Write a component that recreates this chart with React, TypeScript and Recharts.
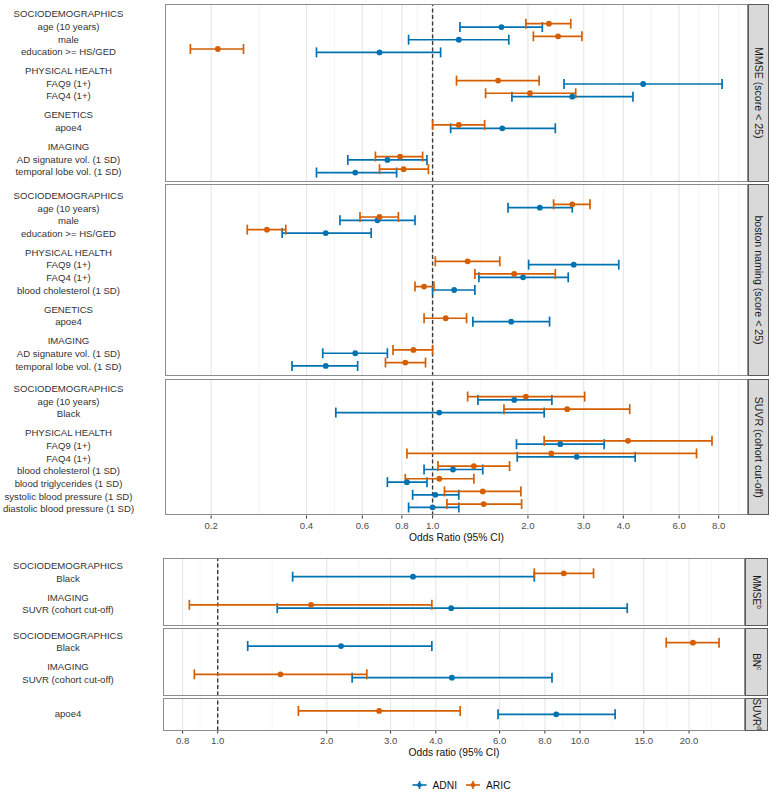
import React from 'react';
import { ComposedChart, Scatter, ErrorBar, XAxis, YAxis, CartesianGrid, ReferenceLine } from 'recharts';

const ADNI_COLOR = '#0072B2';
const ARIC_COLOR = '#D55E00';
const FONT = '"Liberation Sans", Arial, Helvetica, sans-serif';

const groupHeaders = ['SOCIODEMOGRAPHICS', 'PHYSICAL HEALTH', 'GENETICS', 'IMAGING'];

const topTicks = [0.2, 0.4, 0.6, 0.8, 1, 2, 3, 4, 6, 8];
const bottomTicks = [0.8, 1, 2, 3, 4, 6, 8, 10, 15, 20];

// rows of each facet (headers + items), values are [OR, lower, upper] per item row
const mmseRows = ['SOCIODEMOGRAPHICS', 'age (10 years)', 'male', 'education >= HS/GED', 'PHYSICAL HEALTH', 'FAQ9 (1+)', 'FAQ4 (1+)', 'GENETICS', 'apoe4', 'IMAGING', 'AD signature vol. (1 SD)', 'temporal lobe vol. (1 SD)'];
const mmseAdni = [
  [1.65, 1.22, 2.22], [1.21, 0.84, 1.74], [0.68, 0.43, 1.06],
  [4.62, 2.6, 8.2], [2.76, 1.78, 4.29],
  [1.66, 1.14, 2.44],
  [0.72, 0.54, 0.96], [0.57, 0.43, 0.77],
];
const mmseAric = [
  [2.33, 1.97, 2.73], [2.49, 2.08, 2.96], [0.21, 0.172, 0.253],
  [1.61, 1.19, 2.17], [2.03, 1.47, 2.83],
  [1.21, 1.0, 1.46],
  [0.79, 0.66, 0.93], [0.81, 0.68, 0.97],
];

const bostonRows = ['SOCIODEMOGRAPHICS', 'age (10 years)', 'male', 'education >= HS/GED', 'PHYSICAL HEALTH', 'FAQ9 (1+)', 'FAQ4 (1+)', 'blood cholesterol (1 SD)', 'GENETICS', 'apoe4', 'IMAGING', 'AD signature vol. (1 SD)', 'temporal lobe vol. (1 SD)'];
const bostonAdni = [
  [2.18, 1.73, 2.76], [0.67, 0.51, 0.88], [0.46, 0.335, 0.64],
  [2.79, 2.01, 3.87], [1.93, 1.4, 2.68], [1.17, 1.0, 1.36],
  [1.77, 1.34, 2.34],
  [0.57, 0.45, 0.72], [0.46, 0.36, 0.58],
];
const bostonAric = [
  [2.76, 2.41, 3.14], [0.68, 0.59, 0.78], [0.3, 0.26, 0.344],
  [1.29, 1.02, 1.63], [1.81, 1.36, 2.44], [0.94, 0.88, 1.01],
  [1.1, 0.94, 1.28],
  [0.87, 0.75, 1.0], [0.82, 0.71, 0.95],
];

const suvrRows = ['SOCIODEMOGRAPHICS', 'age (10 years)', 'Black', 'PHYSICAL HEALTH', 'FAQ9 (1+)', 'FAQ4 (1+)', 'blood cholesterol (1 SD)', 'blood triglycerides (1 SD)', 'systolic blood pressure (1 SD)', 'diastolic blood pressure (1 SD)'];
const suvrAdni = [
  [1.81, 1.39, 2.38], [1.05, 0.495, 2.25],
  [2.53, 1.84, 3.48], [2.85, 1.85, 4.36], [1.16, 0.94, 1.44], [0.83, 0.72, 0.96], [1.02, 0.865, 1.21], [1.0, 0.84, 1.21],
];
const suvrAric = [
  [1.97, 1.29, 3.02], [2.66, 1.68, 4.19],
  [4.14, 2.25, 7.62], [2.37, 0.83, 6.81], [1.35, 1.04, 1.75], [1.05, 0.82, 1.35], [1.44, 1.09, 1.9], [1.45, 1.11, 1.91],
];

const mmseBRows = ['SOCIODEMOGRAPHICS', 'Black', 'IMAGING', 'SUVR (cohort cut-off)'];
const mmseBAdni = [[3.46, 1.61, 7.48], [4.41, 1.46, 13.5]];
const mmseBAric = [[9.02, 7.48, 10.9], [1.81, 0.835, 3.9]];

const bnBRows = ['SOCIODEMOGRAPHICS', 'Black', 'IMAGING', 'SUVR (cohort cut-off)'];
const bnBAdni = [[2.19, 1.21, 3.9], [4.43, 2.35, 8.37]];
const bnBAric = [[20.5, 17.3, 24.2], [1.49, 0.862, 2.58]];

const suvrBRows = ['apoe4'];
const suvrBAdni = [[8.6, 5.94, 12.5]];
const suvrBAric = [[2.79, 1.67, 4.67]];

function rowPositions(rows: string[]) {
  let pos = 0;
  return rows.map((r, i) => {
    if (i > 0) pos += groupHeaders.includes(r) ? 1.5 : 1;
    return pos;
  });
}

function seriesData(rows: string[], values: number[][], offset: number) {
  const pos = rowPositions(rows);
  const items = rows.map((r, i) => ({ r, p: pos[i] })).filter((d) => !groupHeaders.includes(d.r));
  return items.map((d, i) => ({
    label: d.r,
    or: values[i][0],
    y: d.p + offset,
    err: [values[i][0] - values[i][1], values[i][2] - values[i][0]],
  }));
}

function minorBreaks(ticks: number[], domain: number[]) {
  const out: number[] = [];
  const ext = [ticks[0] / (ticks[1] / ticks[0]), ...ticks, ticks[ticks.length - 1] * (ticks[ticks.length - 1] / ticks[ticks.length - 2])];
  for (let i = 0; i < ext.length - 1; i++) {
    const m = Math.sqrt(ext[i] * ext[i + 1]);
    if (m > domain[0] * 1.03 && m < domain[1]) out.push(m);
  }
  return out;
}

const dot = (color: string) => (p: any) => <circle cx={p.cx} cy={p.cy} r={2.9} fill={color} />;

interface PanelProps {
  rows: string[];
  adni: number[][];
  aric: number[][];
  yDomain: number[];
  top: number;
  height: number;
  width: number;
  axisWidth: number;
  xDomain: number[];
  ticks: number[];
  showAxis?: boolean;
  strip: React.ReactNode;
  stripWidth: number;
  stripFont: number;
  labelX: number;
  labelDy: number;
}

const Panel = ({ rows, adni, aric, yDomain, top, height, width, axisWidth, xDomain, ticks, showAxis, strip, stripWidth, stripFont, labelX, labelDy }: PanelProps) => {
  const pos = rowPositions(rows);
  const labelMap = new Map<number, string>();
  pos.forEach((p, i) => labelMap.set(p, rows[i]));
  const adniData = seriesData(rows, adni, 0.134);
  const aricData = seriesData(rows, aric, -0.134);
  const axisH = showAxis ? 34 : 0;

  const yTick = (p: any) => (
    <text x={labelX} y={p.y + labelDy} textAnchor="middle" dominantBaseline="central" fontSize={9.6} fill="#333">
      {labelMap.get(p.payload.value)}
    </text>
  );

  return (
    <>
      <div style={{ position: 'absolute', left: 0, top }}>
        <ComposedChart width={width} height={height + axisH} margin={{ top: 0, right: 0, bottom: 0, left: 0 }}>
          <CartesianGrid horizontal={false} verticalValues={minorBreaks(ticks, xDomain)} stroke="#f0f0f0" strokeWidth={0.7} />
          <CartesianGrid horizontal={false} verticalValues={ticks} stroke="#e6e6e6" strokeWidth={1.1} />
          <XAxis
            type="number"
            dataKey="or"
            scale="log"
            domain={xDomain}
            allowDataOverflow
            ticks={ticks}
            interval={0}
            tickFormatter={(v: number) => Number(v).toFixed(1)}
            hide={!showAxis}
            height={axisH}
            axisLine={false}
            tickLine={{ stroke: '#333' }}
            tickSize={3}
            tickMargin={3.5}
            tick={{ fill: '#4d4d4d', fontSize: 9.6 }}
          />
          <YAxis
            type="number"
            dataKey="y"
            domain={yDomain}
            allowDataOverflow
            reversed
            ticks={pos}
            interval={0}
            width={axisWidth}
            axisLine={false}
            tickLine={false}
            tick={yTick}
          />
          <ReferenceLine x={1} stroke="#3a3a3a" strokeWidth={1.4} strokeDasharray="4 2.5" />
          <Scatter data={adniData} fill={ADNI_COLOR} shape={dot(ADNI_COLOR)} isAnimationActive={false}>
            <ErrorBar dataKey="err" direction="x" width={5} stroke={ADNI_COLOR} strokeWidth={1.7} isAnimationActive={false} />
          </Scatter>
          <Scatter data={aricData} fill={ARIC_COLOR} shape={dot(ARIC_COLOR)} isAnimationActive={false}>
            <ErrorBar dataKey="err" direction="x" width={5} stroke={ARIC_COLOR} strokeWidth={1.7} isAnimationActive={false} />
          </Scatter>
        </ComposedChart>
      </div>
      <div
        style={{
          position: 'absolute', left: axisWidth, top, width: width - axisWidth, height,
          border: '1.5px solid #8c8c8c', boxSizing: 'border-box', pointerEvents: 'none',
        }}
      />
      <div
        style={{
          position: 'absolute', left: width, top, width: stripWidth, height,
          background: '#d9d9d9', border: '1px solid #5a5a5a', boxSizing: 'border-box',
        }}
      >
        <svg width={stripWidth} height={height} style={{ position: 'absolute', left: -1, top: -1, overflow: 'visible' }}>
          <text
            transform={`translate(${stripWidth / 2}, ${height / 2}) rotate(90)`}
            textAnchor="middle"
            dominantBaseline="central"
            fontSize={stripFont}
            fill="#1a1a1a"
          >
            {strip}
          </text>
        </svg>
      </div>
    </>
  );
};

const sup = (base: string, s: string) => (
  <>
    <tspan>{base}</tspan>
    <tspan fontSize={6.5} dy={-3.5}>{s}</tspan>
  </>
);

const LegendKey = ({ x, color }: { x: number; color: string }) => (
  <g>
    <line x1={x - 7} x2={x + 7} y1={10} y2={10} stroke={color} strokeWidth={1.6} />
    <line x1={x} x2={x} y1={6} y2={14} stroke={color} strokeWidth={1.6} />
    <circle cx={x} cy={10} r={2.3} fill={color} />
  </g>
);

export default function App() {
  const topX = [0.143, 9.9];
  const botX = [0.7063, 28.54];
  return (
    <div style={{ position: 'absolute', left: 0, top: 0, width: 772, height: 795, fontFamily: FONT, background: '#fff' }}>
      <Panel rows={mmseRows} adni={mmseAdni} aric={mmseAric} yDomain={[-0.69, 13.34]} top={4} height={177.5}
        width={748} axisWidth={165} xDomain={topX} ticks={topTicks} strip="MMSE (score < 25)" stripWidth={21} stripFont={10.6} labelX={68.5} labelDy={1} />
      <Panel rows={bostonRows} adni={bostonAdni} aric={bostonAric} yDomain={[-0.74, 14.43]} top={184} height={192}
        width={748} axisWidth={165} xDomain={topX} ticks={topTicks} strip="boston naming (score < 25)" stripWidth={21} stripFont={10.6} labelX={68.5} labelDy={2} />
      <Panel rows={suvrRows} adni={suvrAdni} aric={suvrAric} yDomain={[-0.52, 10.27]} top={378.5} height={136.5}
        width={748} axisWidth={165} xDomain={topX} ticks={topTicks} strip="SUVR (cohort cut-off)" stripWidth={21} stripFont={10.6} labelX={68.5} labelDy={3} showAxis />
      <div style={{ position: 'absolute', left: 165, width: 583, top: 532, textAlign: 'center', fontSize: 10.3, color: '#111' }}>
        Odds Ratio (95% CI)
      </div>

      <Panel rows={mmseBRows} adni={mmseBAdni} aric={mmseBAric} yDomain={[-0.35, 5.05]} top={557.5} height={68}
        width={745} axisWidth={163} xDomain={botX} ticks={bottomTicks} strip={sup('MMSE', 'b')} stripWidth={23} stripFont={10} labelX={68} labelDy={3.5} />
      <Panel rows={bnBRows} adni={bnBAdni} aric={bnBAric} yDomain={[-0.29, 5.04]} top={628} height={67.5}
        width={745} axisWidth={163} xDomain={botX} ticks={bottomTicks} strip={sup('BN', 'c')} stripWidth={23} stripFont={10} labelX={68} labelDy={3.5} />
      <Panel rows={suvrBRows} adni={suvrBAdni} aric={suvrBAric} yDomain={[-1.16, 1.41]} top={698} height={32.5}
        width={745} axisWidth={163} xDomain={botX} ticks={bottomTicks} strip={sup('SUVR', 'd')} stripWidth={23} stripFont={10} labelX={68} labelDy={1} showAxis />
      <div style={{ position: 'absolute', left: 163, width: 582, top: 746.5, textAlign: 'center', fontSize: 10.3, color: '#111' }}>
        Odds ratio (95% CI)
      </div>

      <svg width={120} height={20} style={{ position: 'absolute', left: 405, top: 775 }}>
        <LegendKey x={14.5} color={ADNI_COLOR} />
        <text x={27.5} y={10} dominantBaseline="central" fontSize={10.3} fill="#111">ADNI</text>
        <LegendKey x={68} color={ARIC_COLOR} />
        <text x={81} y={10} dominantBaseline="central" fontSize={10.3} fill="#111">ARIC</text>
      </svg>
    </div>
  );
}
